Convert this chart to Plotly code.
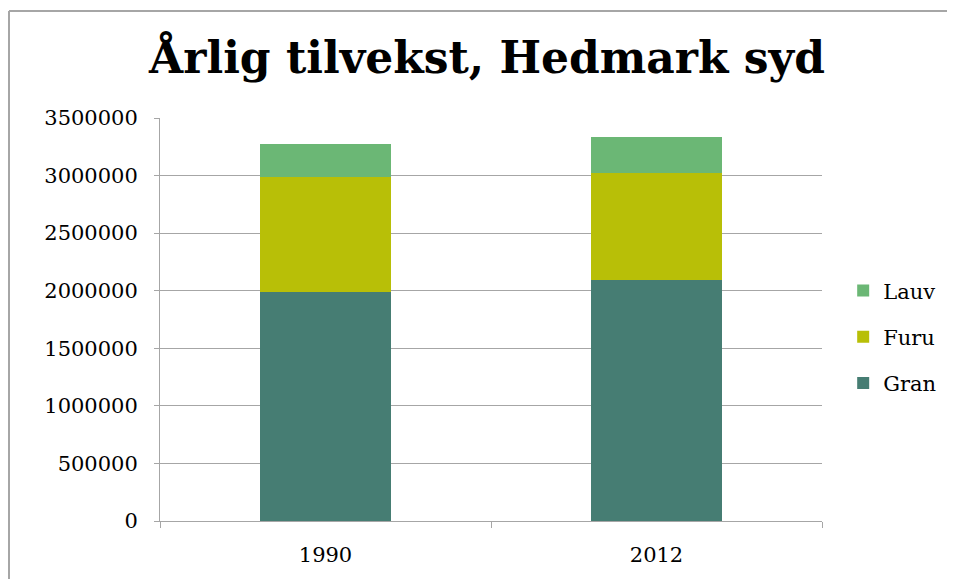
import plotly.graph_objects as go

years = ["1990", "2012"]
gran = [1990000, 2093000]
furu = [1000000, 930000]
lauv = [287000, 313000]
series_names = ["Gran", "Furu", "Lauv"]
colors = ["#467D73", "#B8BF07", "#6BB775"]
legend_ranks = [3, 2, 1]
y_ticks = [0, 500000, 1000000, 1500000, 2000000, 2500000, 3000000, 3500000]

FONT = "DejaVu Serif"
fig = go.Figure()
for name, vals, col, rank in zip(series_names, [gran, furu, lauv], colors, legend_ranks):
    fig.add_trace(go.Bar(x=years, y=vals, name=name, marker_color=col,
                         marker_line_width=0, legendgroup=name, legendrank=rank))

# page body has an 8px offset; compensate in margins
fig.update_layout(
    barmode="stack",
    bargap=0.604,
    width=955, height=579,
    margin=dict(l=152, r=141, t=110, b=66),
    paper_bgcolor="white", plot_bgcolor="white",
    font=dict(family=FONT, size=21, color="black"),
    title=dict(text="<b>Årlig tilvekst, Hedmark syd</b>", x=0.494, xref="paper",
               xanchor="center", y=0.914, yanchor="middle",
               font=dict(family=FONT, size=44, color="black")),
    legend=dict(traceorder="grouped", tracegroupgap=16,
                x=1.032, xanchor="left", y=0.457, yanchor="middle",
                font=dict(family=FONT, size=21, color="black"),
                bgcolor="rgba(0,0,0,0)"),
    showlegend=True,
)
fig.update_yaxes(range=[0, 3500000], tickvals=y_ticks,
                 ticktext=[str(v) for v in y_ticks],
                 showgrid=True, gridcolor="#A6A6A6", gridwidth=1,
                 showline=True, linecolor="#A6A6A6", linewidth=1,
                 ticks="outside", ticklen=5, tickcolor="#A6A6A6",
                 ticklabelstandoff=12, zeroline=False)
fig.update_xaxes(type="category", tickson="boundaries", ticks="outside",
                 ticklen=6, tickcolor="#A6A6A6", showline=True,
                 linecolor="#A6A6A6", linewidth=1, showgrid=False,
                 ticklabelstandoff=15)

# chart-area border: only top and left edges are visible in the frame
bx0 = (1 - 152) / 662
by1 = (513 - 3) / 403
fig.add_shape(type="line", xref="paper", yref="paper",
              x0=bx0, x1=1.3, y0=by1, y1=by1,
              line=dict(color="#A6A6A6", width=2), layer="below")
fig.add_shape(type="line", xref="paper", yref="paper",
              x0=bx0, x1=bx0, y0=by1, y1=-0.3,
              line=dict(color="#A6A6A6", width=2), layer="below")

fig.write_html("out.html")
